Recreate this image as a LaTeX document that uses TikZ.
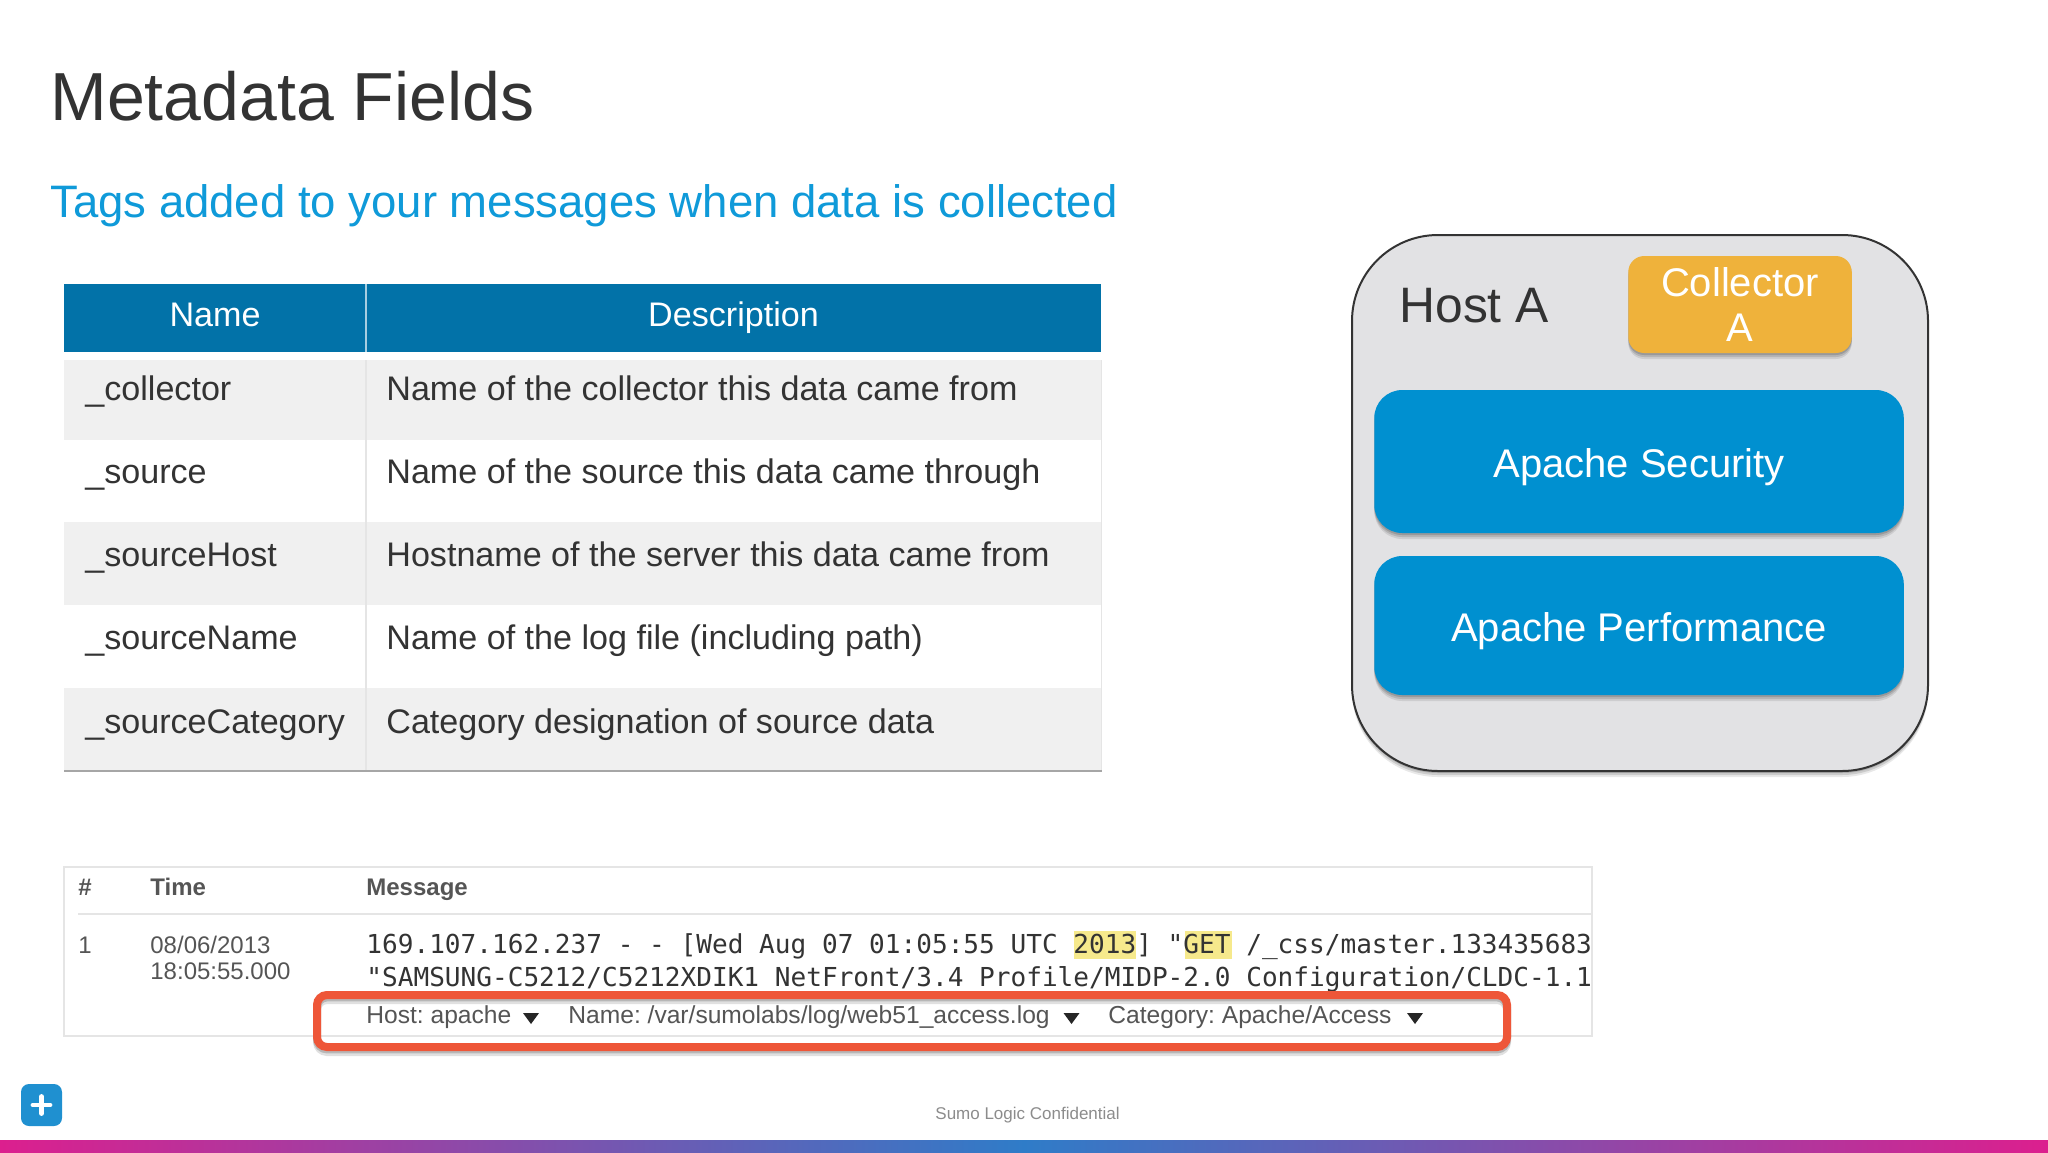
\documentclass[tikz,border=0pt]{standalone}
\usepackage{fontspec}
\setmainfont{Liberation Sans}
\newfontfamily\logmono{DejaVu Sans Mono}
\usetikzlibrary{shadows}
\definecolor{inkdark}{HTML}{333333}
\definecolor{inklog}{HTML}{555555}
\definecolor{skyblue}{HTML}{0F9AD9}
\definecolor{headblue}{HTML}{0272A8}
\definecolor{boxblue}{HTML}{0090D0}
\definecolor{bandgrey}{HTML}{F0F0F0}
\definecolor{hostgrey}{HTML}{E2E2E4}
\definecolor{amber}{HTML}{EFB23B}
\definecolor{tagred}{HTML}{EE5638}
\definecolor{marker}{HTML}{F6E98C}
\definecolor{iconblue}{HTML}{1F90D0}
\definecolor{barpink}{HTML}{DC1F8E}
\definecolor{barblue}{HTML}{2F7CC8}
\tikzset{
  softshadow/.style={
    drop shadow={shadow xshift=0pt, shadow yshift=-3pt, opacity=.09, fill=black},
    drop shadow={shadow xshift=0pt, shadow yshift=-2pt, opacity=.12, fill=black},
    drop shadow={shadow xshift=0pt, shadow yshift=-1pt, opacity=.15, fill=black}},
  headcell/.style={fill=headblue, text=white, inner sep=0pt, outer sep=0pt, font=\fontsize{17.05}{20}\selectfont, text height=9pt, text depth=1pt},
  rowcell/.style={anchor=base west, inner sep=0pt, text=inkdark, font=\fontsize{17.05}{20}\selectfont},
  appbox/.style={fill=boxblue, text=white, rounded corners=14pt, softshadow, inner sep=0pt, minimum width=264.75pt, font=\fontsize{20}{24}\selectfont, text height=16pt, text depth=0.5pt},
  loghead/.style={anchor=base west, inner sep=0pt, text=inklog, font=\fontsize{12}{14}\selectfont\bfseries},
  logcell/.style={anchor=base west, inner sep=0pt, text=inklog, font=\fontsize{12}{14}\selectfont},
  logline/.style={anchor=base west, inner sep=0pt, text=black!80, font=\logmono\fontsize{13.05}{16}\selectfont},
  tagcell/.style={anchor=base west, inner sep=0pt, text=inklog, font=\fontsize{12.3}{14}\selectfont\frenchspacing},
  caret/.style={fill=black!85},
  gridline/.style={draw=black!10, line width=.9pt}
}
\begin{document}
\begin{tikzpicture}[x=.5pt,y=-.5pt]
\useasboundingbox (0,0) rectangle (2048,1152);
\fill[white] (0,0) rectangle (2048,1152);
\node[anchor=base west, inner sep=0pt, text=inkdark, font=\fontsize{34}{40}\selectfont] (title0) at (50,120){Metadata Fields};
\node[anchor=base west, inner sep=0pt, text=skyblue, font=\fontsize{22.75}{27}\selectfont] (title1) at (50,217){Tags added to your messages when data is collected};

\node[headcell, minimum width=151pt, minimum height=34pt] (thead0) at (215,318){Name};
\node[headcell, minimum width=367.5pt, minimum height=34pt] (thead1) at (733.5,318){Description};
\draw[white!65!headblue, line width=.8pt] (366,284) -- (366,352);
\fill[bandgrey] (64,360) rectangle (1101,440);
\fill[bandgrey] (64,522) rectangle (1101,605);
\fill[bandgrey] (64,688) rectangle (1101,771);
\draw[black!10, line width=.8pt] (366,360) -- (366,771);
\draw[black!10, line width=.8pt] (1101.5,360) -- (1101.5,771);
\draw[black!35, line width=1.2pt] (64,771) -- (1102,771);
\node[rowcell] (tkey0) at (85,400){\_collector};
\node[rowcell] (tval0) at (386,400){Name of the collector this data came from};
\node[rowcell] (tkey1) at (85,483){\_source};
\node[rowcell] (tval1) at (386,483){Name of the source this data came through};
\node[rowcell] (tkey2) at (85,566){\_sourceHost};
\node[rowcell] (tval2) at (386,566){Hostname of the server this data came from};
\node[rowcell] (tkey3) at (85,649){\_sourceName};
\node[rowcell] (tval3) at (386,649){Name of the log file (including path)};
\node[rowcell] (tkey4) at (85,733){\_sourceCategory};
\node[rowcell] (tval4) at (386,733){Category designation of source data};

\node[fill=hostgrey, draw=black!80, line width=1pt, rounded corners=43pt, inner sep=0pt, minimum width=288pt, minimum height=268pt, softshadow] (host0) at (1640,503){};
\node[anchor=base west, inner sep=0pt, text=inkdark, font=\fontsize{24.9}{28}\selectfont] (host1) at (1399,322){Host A};
\node[fill=amber, text=white, rounded corners=8pt, inner sep=0pt, align=center, minimum width=111.75pt, minimum height=48.5pt, softshadow, font=\fontsize{20}{22.5}\selectfont] (coll0) at (1740,304.5){Collector\\A};
\node[appbox, minimum height=71.5pt] (app0) at (1639,461.5){Apache Security};
\node[appbox, minimum height=69.5pt] (app1) at (1639,625.5){Apache Performance};

\draw[gridline] (64,867) rectangle (1592,1036);
\draw[gridline] (78,914) -- (1592,914);
\node[loghead] (lhead0) at (78,895){\#};
\node[loghead] (lhead1) at (150,895){Time};
\node[loghead] (lhead2) at (366,895){Message};
\node[logcell] (lcell0) at (78,953){1};
\node[logcell] (lcell1) at (150,953){08/06/2013};
\node[logcell] (lcell2) at (150,979){18:05:55.000};
\fill[marker] (1074,931) rectangle (1136,959);
\fill[marker] (1184.5,931) rectangle (1231.5,959);
\node[logline] (lmsg0) at (366,953){169.107.162.237 - - [Wed Aug 07 01:05:55 UTC 2013] "GET /\_css/master.133435683};
\node[logline] (lmsg1) at (366,986){"SAMSUNG-C5212/C5212XDIK1 NetFront/3.4 Profile/MIDP-2.0 Configuration/CLDC-1.1};
\node[draw=tagred, line width=4pt, rounded corners=5pt, inner sep=0pt, minimum width=595pt, minimum height=26pt, preaction={draw=black, draw opacity=.12, transform canvas={yshift=-2.5pt}}, preaction={draw=black, draw opacity=.18, transform canvas={yshift=-1.2pt}}] (tagbox) at (912,1021){};
\node[tagcell] (tag0) at (366,1023){Host: apache};
\fill[caret] (523,1013) -- (539,1013) -- (531,1024) -- cycle;
\node[tagcell] (tag1) at (568,1023){Name: /var/sumolabs/log/web51\_access.log};
\fill[caret] (1063.5,1013) -- (1079.5,1013) -- (1071.5,1024) -- cycle;
\node[tagcell] (tag2) at (1108,1023){Category: Apache/Access};
\fill[caret] (1407,1013) -- (1423,1013) -- (1415,1024) -- cycle;

\node[fill=iconblue, rounded corners=4pt, inner sep=0pt, minimum width=20.5pt, minimum height=21pt] (plus0) at (41.5,1105){};
\draw[white, line width=2.4pt, line cap=round] (33,1105) -- (50,1105);
\draw[white, line width=2.4pt, line cap=round] (41.5,1096.5) -- (41.5,1113.5);
\node[anchor=base west, inner sep=0pt, text=black!45, font=\fontsize{8.5}{10}\selectfont] (foot0) at (935,1119){Sumo Logic Confidential};
\shade[left color=barpink, right color=barpink, middle color=barblue] (0,1140) rectangle (2048,1152);

\end{tikzpicture}
\end{document}
